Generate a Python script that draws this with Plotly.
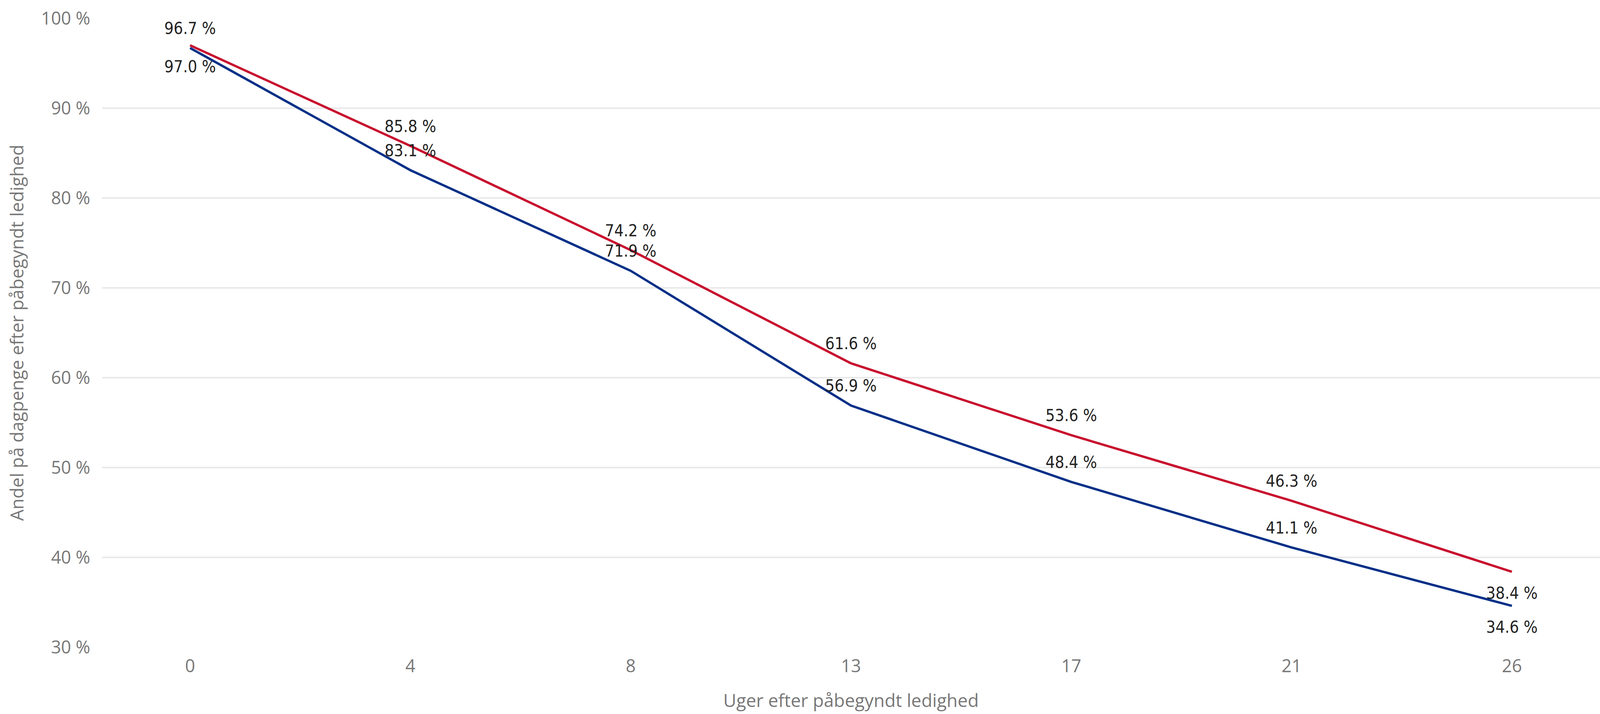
import plotly.graph_objects as go

weeks = ["0", "4", "8", "13", "17", "21", "26"]
blue_values = [96.7, 83.1, 71.9, 56.9, 48.4, 41.1, 34.6]
red_values = [97.0, 85.8, 74.2, 61.6, 53.6, 46.3, 38.4]
y_ticks = [30, 40, 50, 60, 70, 80, 90, 100]
y_tick_labels = ["30 %", "40 %", "50 %", "60 %", "70 %", "80 %", "90 %", "100 %"]

blue_color = "#002F87"
red_color = "#C8102E"
label_font = dict(family="Liberation Sans Narrow, DejaVu Sans Condensed, Arial Narrow, sans-serif",
                  size=42, color="#222222")

def fmt(v):
    return f"{v:.1f} %"

blue_pos = ["top center"] * 6 + ["bottom center"]
red_pos = ["bottom center"] + ["top center"] * 5 + ["bottom center"]

def offsets(positions):
    # invisible marker size sets the gap between the line and its label
    return [39 if p.startswith("top") else 58 for p in positions]

fig = go.Figure()
fig.add_trace(go.Scatter(
    x=weeks, y=red_values, mode="lines+markers+text",
    line=dict(color=red_color, width=6),
    marker=dict(size=offsets(red_pos), opacity=0),
    text=[fmt(v) for v in red_values], textposition=red_pos,
    textfont=label_font, showlegend=False, cliponaxis=False, hoverinfo="skip",
))
fig.add_trace(go.Scatter(
    x=weeks, y=blue_values, mode="lines+markers+text",
    line=dict(color=blue_color, width=6),
    marker=dict(size=offsets(blue_pos), opacity=0),
    text=[fmt(v) for v in blue_values], textposition=blue_pos,
    textfont=label_font, showlegend=False, cliponaxis=False, hoverinfo="skip",
))

axis_font = dict(family="Open Sans, Segoe UI, sans-serif", size=45, color="#777777")
title_font = dict(family="Open Sans, Segoe UI, sans-serif", size=46, color="#777777")
fig.update_layout(
    width=4096, height=1828,
    margin=dict(l=261, r=0, t=47, b=171),
    paper_bgcolor="white", plot_bgcolor="white",
    xaxis=dict(
        type="category", categoryorder="array", categoryarray=weeks,
        range=[-0.4, 6.4], showgrid=False, zeroline=False, showline=False,
        tickfont=axis_font, ticks="", ticklabelstandoff=18,
        title=dict(text="Uger efter påbegyndt ledighed", font=title_font, standoff=44),
    ),
    yaxis=dict(
        range=[30, 100], tickvals=y_ticks, ticktext=y_tick_labels,
        showgrid=True, gridcolor="#e9e9e9", gridwidth=4, zeroline=False, showline=False,
        tickfont=axis_font, ticks="", ticklabelstandoff=29,
        title=dict(text="Andel på dagpenge efter påbegyndt ledighed", font=title_font, standoff=29),
    ),
)

fig.write_html("out.html", config={"displayModeBar": False},
               post_script="document.body.style.margin='0';")
